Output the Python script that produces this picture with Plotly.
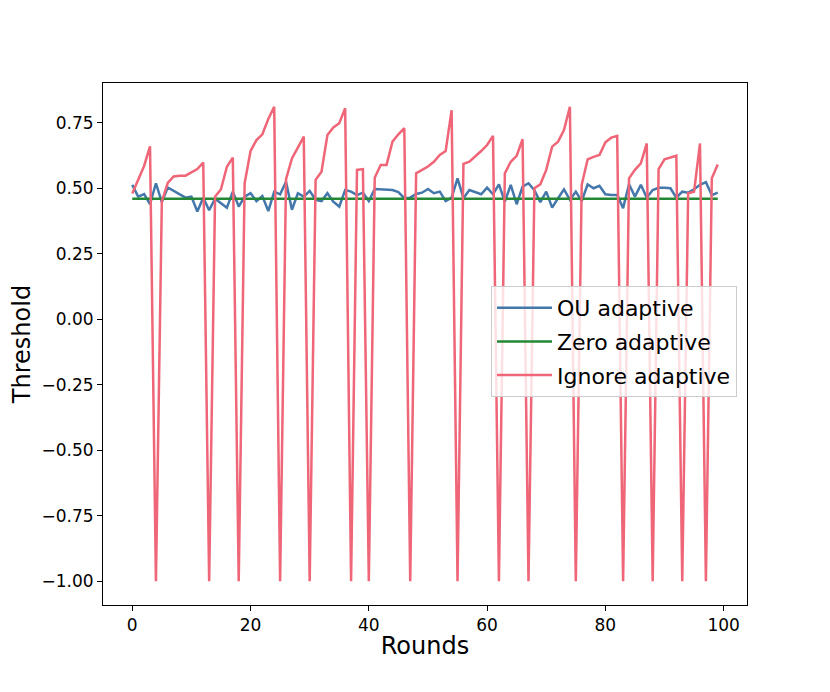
import plotly.graph_objects as go

rounds = list(range(100))

ou_adaptive = [0.513, 0.468, 0.478, 0.439, 0.519, 0.447, 0.503, 0.490, 0.477, 0.464,
               0.468, 0.411, 0.464, 0.416, 0.460, 0.443, 0.426, 0.487, 0.430, 0.468,
               0.481, 0.451, 0.470, 0.413, 0.487, 0.477, 0.525, 0.418, 0.481, 0.468,
               0.490, 0.456, 0.451, 0.481, 0.449, 0.430, 0.493, 0.487, 0.474, 0.483,
               0.451, 0.497, 0.496, 0.493, 0.493, 0.485, 0.462, 0.464, 0.478, 0.483,
               0.497, 0.481, 0.487, 0.451, 0.464, 0.538, 0.462, 0.493, 0.485, 0.477,
               0.502, 0.477, 0.515, 0.449, 0.513, 0.439, 0.506, 0.519, 0.493, 0.447,
               0.487, 0.426, 0.462, 0.496, 0.456, 0.487, 0.451, 0.515, 0.500, 0.509,
               0.477, 0.474, 0.474, 0.424, 0.515, 0.468, 0.513, 0.464, 0.493, 0.502,
               0.502, 0.500, 0.464, 0.487, 0.483, 0.496, 0.513, 0.523, 0.474, 0.483]

zero_adaptive = [0.46] * 100

ignore_adaptive = [0.480, 0.530, 0.585, 0.660, -1.00, 0.450, 0.520, 0.545, 0.548, 0.548,
                   0.560, 0.573, 0.598, -1.00, 0.468, 0.496, 0.582, 0.617, -1.00, 0.519,
                   0.642, 0.684, 0.706, 0.764, 0.811, -1.00, 0.535, 0.614, 0.655, 0.697,
                   -1.00, 0.532, 0.563, 0.703, 0.732, 0.748, 0.805, -1.00, 0.570, 0.573,
                   -1.00, 0.540, 0.589, 0.589, 0.678, 0.706, 0.729, -1.00, 0.557, 0.570,
                   0.583, 0.601, 0.627, 0.642, 0.798, -1.00, 0.593, 0.601, 0.620, 0.642,
                   0.665, 0.700, -1.00, 0.557, 0.601, 0.624, 0.687, -1.00, 0.500, 0.515,
                   0.570, 0.659, 0.678, 0.722, 0.811, -1.00, 0.513, 0.610, 0.620, 0.627,
                   0.675, 0.693, 0.700, -1.00, 0.538, 0.570, 0.595, 0.671, -1.00, 0.573,
                   0.610, 0.617, 0.624, -1.00, 0.481, 0.487, 0.671, -1.00, 0.538, 0.591]

fig = go.Figure()
fig.add_trace(go.Scatter(x=rounds, y=ou_adaptive, mode='lines', name='OU adaptive',
                         legendgroup='a', line=dict(color='#4477AA', width=2.5)))
fig.add_trace(go.Scatter(x=rounds, y=zero_adaptive, mode='lines', name='Zero adaptive',
                         legendgroup='b', line=dict(color='#228833', width=2.5)))
fig.add_trace(go.Scatter(x=rounds, y=ignore_adaptive, mode='lines', name='Ignore adaptive',
                         legendgroup='c', line=dict(color='#EE6677', width=2.5)))

axis_style = dict(showline=True, linecolor='black', linewidth=1, mirror=True,
                  ticks='outside', ticklen=5, tickcolor='black', showgrid=False,
                  zeroline=False, tickfont=dict(size=17, color='black'))

fig.update_xaxes(range=[-4.95, 103.95], tick0=0, dtick=20,
                 title=dict(text='Rounds', font=dict(size=24, color='black'), standoff=2),
                 **axis_style)
fig.update_yaxes(range=[-1.0907, 0.9017], tick0=0, dtick=0.25, tickformat='.2f',
                 title=dict(text='Threshold', font=dict(size=24, color='black'), standoff=4),
                 **axis_style)

# page body adds an 8px offset, so the figure is drawn 8px smaller
fig.update_layout(
    width=822, height=684,
    margin=dict(l=95, r=83, t=75, b=87),
    paper_bgcolor='white', plot_bgcolor='white',
    font=dict(family='DejaVu Sans', color='black'),
    legend=dict(x=0.9845, y=0.611, xanchor='right', yanchor='top',
                bgcolor='rgba(255,255,255,0.8)', bordercolor='#cccccc', borderwidth=1,
                font=dict(size=22, color='black'), tracegroupgap=2, itemwidth=55),
)

fig.write_html("out.html")
